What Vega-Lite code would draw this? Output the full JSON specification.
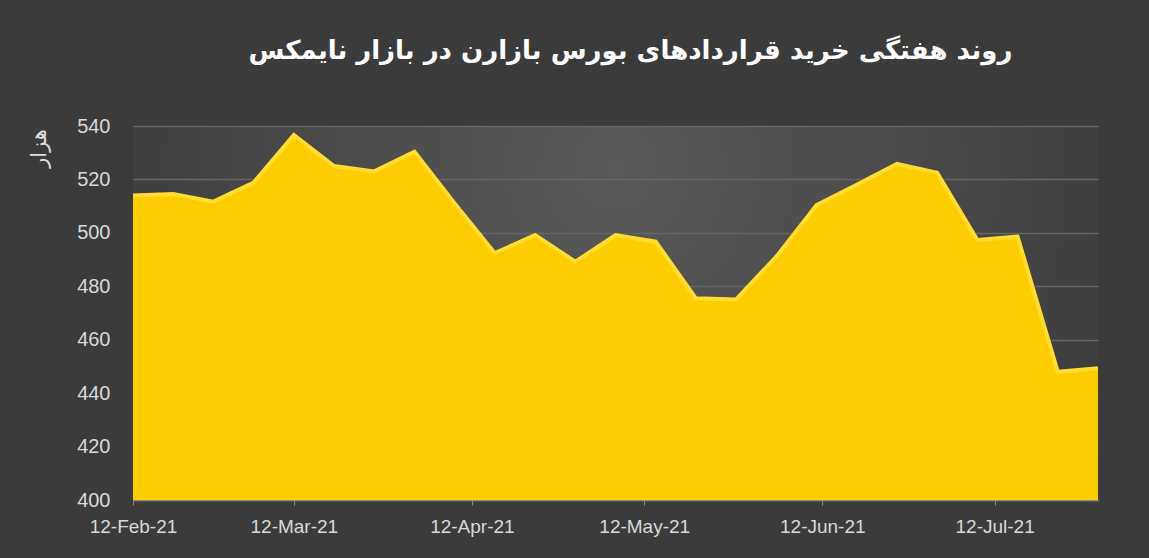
{
  "$schema": "https://vega.github.io/schema/vega-lite/v6.json",
  "autosize": "none",
  "width": 965,
  "height": 374,
  "padding": {"left": 133, "top": 126, "right": 51, "bottom": 58},
  "background": "#3b3b3b",
  "config": {
    "view": {
      "stroke": null,
      "fill": {
        "gradient": "radial",
        "x1": 0.5, "y1": 0.35, "r1": 0,
        "x2": 0.5, "y2": 0.35, "r2": 0.68,
        "stops": [
          {"offset": 0, "color": "#5a5a5a"},
          {"offset": 1, "color": "#363636"}
        ]
      }
    }
  },
  "title": {
    "text": "روند هفتگی خرید قراردادهای بورس بازارن در بازار نایمکس",
    "font": "DejaVu Sans",
    "fontSize": 26,
    "fontWeight": "bold",
    "color": "#ffffff",
    "anchor": "middle",
    "offset": 52,
    "dx": 15
  },
  "data": {
    "values": [
      {"date": "2021-02-12", "value": 514.0},
      {"date": "2021-02-19", "value": 514.5},
      {"date": "2021-02-26", "value": 511.7},
      {"date": "2021-03-05", "value": 518.8},
      {"date": "2021-03-12", "value": 536.6},
      {"date": "2021-03-19", "value": 525.0},
      {"date": "2021-03-26", "value": 523.0},
      {"date": "2021-04-02", "value": 530.4},
      {"date": "2021-04-09", "value": 511.0},
      {"date": "2021-04-16", "value": 492.4},
      {"date": "2021-04-23", "value": 499.2},
      {"date": "2021-04-30", "value": 489.2},
      {"date": "2021-05-07", "value": 499.2},
      {"date": "2021-05-14", "value": 496.7},
      {"date": "2021-05-21", "value": 475.5},
      {"date": "2021-05-28", "value": 475.1},
      {"date": "2021-06-04", "value": 491.1},
      {"date": "2021-06-11", "value": 510.4},
      {"date": "2021-06-18", "value": 518.0},
      {"date": "2021-06-25", "value": 525.8},
      {"date": "2021-07-02", "value": 522.5},
      {"date": "2021-07-09", "value": 497.3},
      {"date": "2021-07-16", "value": 498.6},
      {"date": "2021-07-23", "value": 448.0},
      {"date": "2021-07-30", "value": 449.3}
    ]
  },
  "encoding": {
    "x": {
      "field": "date",
      "type": "temporal",
      "scale": {"domain": [{"year": 2021, "month": "feb", "date": 12}, {"year": 2021, "month": "jul", "date": 30}]},
      "axis": {
        "title": null,
        "format": "%d-%b-%y",
        "values": [
          {"year": 2021, "month": "feb", "date": 12},
          {"year": 2021, "month": "mar", "date": 12},
          {"year": 2021, "month": "apr", "date": 12},
          {"year": 2021, "month": "may", "date": 12},
          {"year": 2021, "month": "jun", "date": 12},
          {"year": 2021, "month": "jul", "date": 12}
        ],
        "grid": false,
        "domainColor": "#8a8a8a",
        "domainWidth": 1.5,
        "tickColor": "#8a8a8a",
        "tickSize": 5,
        "labelColor": "#d9d9d9",
        "labelFont": "Liberation Sans",
        "labelFontSize": 19,
        "labelPadding": 12,
        "labelFlush": false
      }
    },
    "y": {
      "field": "value",
      "type": "quantitative",
      "scale": {"domain": [400, 540], "zero": false},
      "axis": {
        "title": "هزار",
        "titleFont": "DejaVu Sans",
        "titleFontSize": 21,
        "titleFontWeight": "normal",
        "titleColor": "#e0e0e0",
        "titleAngle": -90,
        "titleX": -94,
        "titleY": 22,
        "titleAlign": "center",
        "titleBaseline": "middle",
        "values": [400, 420, 440, 460, 480, 500, 520, 540],
        "domain": false,
        "ticks": false,
        "grid": true,
        "gridColor": "#666666",
        "gridWidth": 1.5,
        "labelColor": "#d9d9d9",
        "labelFont": "Liberation Sans",
        "labelFontSize": 20,
        "labelPadding": 23
      }
    }
  },
  "layer": [
    {"mark": {"type": "area", "color": "#FFCC00", "interpolate": "linear", "clip": true}},
    {"mark": {"type": "line", "color": "#FFDC2E", "strokeWidth": 4, "interpolate": "linear", "clip": true}}
  ]
}
